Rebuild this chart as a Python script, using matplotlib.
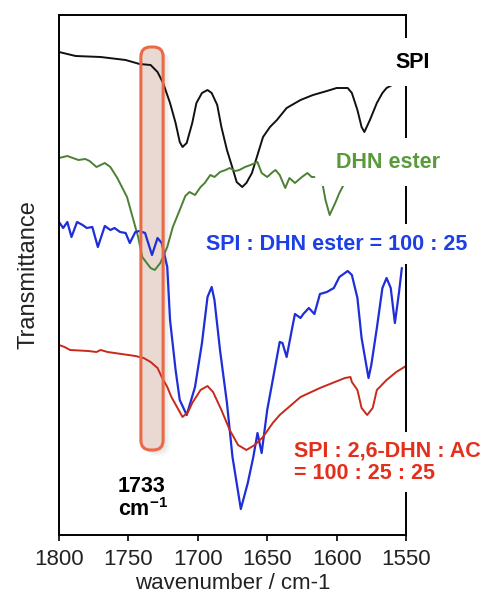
import numpy as np
import matplotlib
matplotlib.use('Agg')
import matplotlib.pyplot as plt
from matplotlib.patches import FancyBboxPatch

plt.rcParams['font.family'] = ['Liberation Sans', 'DejaVu Sans']
plt.rcParams['mathtext.fontset'] = 'custom'
plt.rcParams['mathtext.rm'] = 'Liberation Sans'
plt.rcParams['mathtext.bf'] = 'Liberation Sans:bold'

# spectra: wavenumber (cm-1) and transmittance (a.u., stacked)
spi_wn = [1800, 1788, 1770, 1752, 1742, 1734, 1729, 1725, 1720, 1716, 1713, 1711, 1708, 1704,
          1701, 1697, 1693, 1690, 1686, 1683, 1679, 1675, 1672, 1668, 1665, 1661, 1657, 1653,
          1648, 1643, 1636, 1626, 1617, 1607, 1600, 1592, 1589, 1585, 1582, 1580, 1576, 1571,
          1567, 1564, 1560]
spi_t = [96.6, 95.8, 95.6, 95.0, 94.2, 94.0, 92.6, 90.4, 86.4, 82.4, 78.6, 77.6, 78.4, 82.4,
         86.4, 88.4, 89.0, 88.4, 86.0, 81.6, 77.0, 73.4, 70.6, 69.6, 70.4, 72.4, 76.0, 79.6,
         81.6, 83.0, 85.4, 87.0, 88.0, 88.8, 89.4, 89.4, 88.4, 85.0, 81.6, 80.6, 83.0, 86.4,
         88.4, 89.4, 90.0]

dhn_wn = [1800, 1794, 1790, 1786, 1781, 1778, 1773, 1767, 1763, 1758, 1751, 1747, 1743, 1740,
          1734, 1731, 1727, 1722, 1718, 1713, 1709, 1706, 1702, 1698, 1695, 1691, 1688, 1684,
          1680, 1677, 1673, 1670, 1666, 1662, 1657, 1654, 1650, 1646, 1644, 1641, 1637, 1634,
          1630, 1625, 1621, 1618, 1616, 1613, 1610, 1608, 1605, 1601, 1598, 1595]
dhn_t = [75.4, 75.8, 75.4, 75.0, 75.2, 74.8, 73.6, 74.4, 73.6, 71.4, 67.6, 63.6, 59.6, 55.6,
         53.4, 53.0, 54.4, 57.6, 61.6, 65.0, 67.8, 68.6, 68.0, 69.6, 70.4, 72.0, 71.6, 72.6,
         73.0, 73.4, 72.8, 73.0, 73.6, 74.0, 74.6, 72.4, 71.6, 72.6, 73.0, 72.0, 69.4, 71.4,
         70.4, 71.6, 72.4, 71.6, 71.6, np.nan, 70.0, 67.0, 64.0, 66.4, 68.4, 70.0]

mix_wn = [1800, 1797, 1794, 1791, 1787, 1783, 1780, 1776, 1772, 1767, 1763, 1760, 1756, 1752,
          1749, 1745, 1742, 1738, 1733, 1729, 1726, 1722, 1720, 1716, 1713, 1708, 1702, 1697,
          1693, 1690, 1688, 1684, 1679, 1675, 1669, 1664, 1660, 1657, 1654, 1650, 1646, 1641,
          1639, 1636, 1632, 1630, 1626, 1624, 1620, 1616, 1612, 1607, 1602, 1598, 1592, 1589,
          1585, 1582, 1577, 1575, 1571, 1567, 1564, 1561, 1558, 1555, 1553]
mix_t = [62.6, 61.4, 62.6, 59.6, 62.6, 62.0, 61.4, 61.6, 57.6, 61.8, 61.0, 61.4, 60.6, 60.4,
         58.4, 60.6, 60.8, 60.4, 56.0, 59.4, 58.4, 53.6, 43.0, 33.0, 27.0, 24.0, 29.6, 38.4,
         47.6, 49.6, 47.0, 37.0, 26.4, 15.6, 5.2, 10.4, 15.6, 20.4, 16.4, 25.0, 31.0, 38.6,
         38.4, 35.6, 41.4, 44.2, 43.4, 44.2, 45.4, 44.2, 48.2, 48.6, 49.4, 51.6, 52.8, 52.0,
         47.4, 39.4, 31.4, 34.0, 41.4, 49.4, 51.4, 49.4, 42.4, 48.6, 53.4]

ac_wn = [1800, 1796, 1792, 1779, 1773, 1770, 1765, 1755, 1745, 1739, 1734, 1729, 1726, 1722,
         1719, 1715, 1711, 1707, 1704, 1698, 1693, 1689, 1683, 1677, 1671, 1665, 1659, 1653,
         1646, 1641, 1631, 1626, 1612, 1603, 1594, 1590, 1589, 1585, 1582, 1578, 1574, 1571,
         1564, 1557, 1550]
ac_t = [38.0, 37.6, 37.0, 36.8, 36.6, 37.0, 36.6, 36.2, 35.8, 35.4, 34.6, 33.4, 31.6, 29.6,
        27.6, 25.6, 23.6, 24.6, 26.4, 29.0, 29.8, 28.6, 25.0, 21.0, 18.0, 17.0, 18.0, 19.6,
        22.4, 24.0, 26.4, 27.6, 29.4, 30.4, 31.4, 31.6, 30.6, 29.0, 25.4, 24.0, 25.4, 29.0,
        31.0, 32.6, 33.8]

band_wn = 1733
band_lo, band_hi = 1725, 1741
band_t0, band_t1 = 17.0, 97.6

fig = plt.figure(figsize=(4.83, 5.94), dpi=100)
ax = fig.add_axes([59 / 483, 59 / 594, 347 / 483, 520 / 594])

# highlight band around 1733 cm-1 (shadow, fill, then edge on top)
aspect = (347 / 250) / (520 / 104)
for k, a in [(5, 0.05), (3.5, 0.07), (2, 0.09)]:
    ax.add_patch(FancyBboxPatch((band_lo - k, band_t0 - k * 0.25), band_hi - band_lo, band_t1 - band_t0,
                                boxstyle='round,pad=0,rounding_size=7', mutation_aspect=aspect,
                                facecolor='#808080', edgecolor='none', alpha=a, zorder=1))
ax.add_patch(FancyBboxPatch((band_lo, band_t0), band_hi - band_lo, band_t1 - band_t0,
                            boxstyle='round,pad=0,rounding_size=7', mutation_aspect=aspect,
                            facecolor='#ead9d3', edgecolor='none', zorder=1.2))
ax.add_patch(FancyBboxPatch((band_lo, band_t0), band_hi - band_lo, band_t1 - band_t0,
                            boxstyle='round,pad=0,rounding_size=7', mutation_aspect=aspect,
                            facecolor='none', edgecolor='#ea6a45', linewidth=2.2, zorder=3))

line_kw = dict(solid_joinstyle='round', solid_capstyle='round', zorder=2)
ax.plot(spi_wn, spi_t, color='#111111', lw=1.4, **line_kw)
ax.plot(dhn_wn, dhn_t, color='#4b8035', lw=1.4, **line_kw)
ax.plot(mix_wn, mix_t, color='#1e2ed8', lw=1.6, **line_kw)
ax.plot(ac_wn, ac_t, color='#c9291b', lw=1.4, **line_kw)

ax.set_xlim(1800, 1550)
ax.set_ylim(0, 104)
ax.set_xticks([1800, 1750, 1700, 1650, 1600, 1550])
ax.tick_params(axis='x', direction='out', length=4, width=1.2, labelsize=16,
               colors='black', labelcolor='#222222', pad=6)
ax.set_yticks([])
for s in ax.spines.values():
    s.set_linewidth(1.4)
ax.set_xlabel('wavenumber / cm-1', fontsize=16, color='#222222', labelpad=2)
ax.set_ylabel('Transmittance', fontsize=17, color='#222222', labelpad=14)

fs = 15.5
box = dict(boxstyle='square,pad=0.65', facecolor='white', edgecolor='none')
ax.text(1545, 94.6, 'SPI', fontsize=fs, fontweight='bold', color='black',
        ha='center', va='center', bbox=box, clip_on=False, zorder=5)
ax.text(1563, 74.6, 'DHN ester', fontsize=fs, fontweight='bold', color='#5a9a3b',
        ha='center', va='center', bbox=box, clip_on=False, zorder=5)
ax.text(1600, 58.2, 'SPI : DHN ester = 100 : 25', fontsize=fs, fontweight='bold', color='#1d3fe6',
        ha='center', va='center', bbox=dict(boxstyle='square,pad=0.45', facecolor='white', edgecolor='none'),
        clip_on=False, zorder=5)
ax.text(1630.5, 14.6, 'SPI : 2,6-DHN : AC\n= 100 : 25 : 25', fontsize=fs, fontweight='bold',
        color='#e2301c', ha='left', va='center', linespacing=1.1,
        bbox=dict(boxstyle='square,pad=0.4', facecolor='white', edgecolor='none'),
        clip_on=False, zorder=5)
ax.text(1757.5, 9.6, str(band_wn), fontsize=fs, fontweight='bold', color='black', ha='left', va='center')
ax.text(1757.5, 5.0, r'cm$^{\mathbf{-1}}$', fontsize=fs, fontweight='bold', color='black',
        ha='left', va='center')

fig.savefig('out.png', dpi=100)
